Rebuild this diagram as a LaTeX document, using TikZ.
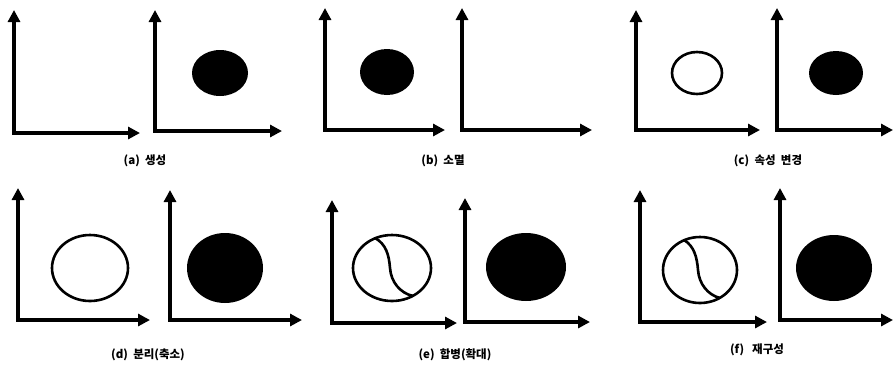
\documentclass[tikz,border=0pt]{standalone}
\usepackage{fontspec}
\newfontfamily\kr{Noto Sans CJK KR}[BoldFont={Noto Sans CJK KR Black}]
\usetikzlibrary{arrows.meta}
\tikzset{
  axis/.style={line width=3.2pt,{Triangle[length=12pt,width=12pt]}-{Triangle[length=12pt,width=12pt]}},
  blob/.style={fill=black},
  ring/.style={draw=black,line width=2.6pt},
  split/.style={draw=black,line width=2.6pt},
  lab/.style={font=\kr\bfseries\fontsize{11.5}{13}\selectfont,inner sep=0pt}
}
\begin{document}
\begin{tikzpicture}[x=1pt,y=-1pt]
\useasboundingbox (0,0) rectangle (893,368);
% (a)
\draw[axis] (14,10) |- (140,133);
\draw[axis] (155,10) |- (282,131);
\fill[blob] (220,73) ellipse [x radius=28,y radius=23];
\node[lab] (la) at (145,161) {(a)\ \ 생성};
% (b)
\draw[axis] (325,8) |- (445,130);
\fill[blob] (387,72) ellipse [x radius=27,y radius=23];
\draw[axis] (462,8) |- (592,130);
\node[lab] (lb) at (443,161) {(b)\ \ 소멸};
% (c)
\draw[axis] (636,10) |- (760,130);
\draw[ring] (697,73) ellipse [x radius=25,y radius=21];
\draw[axis] (777,8) |- (893,130);
\fill[blob] (836,73) ellipse [x radius=27,y radius=22];
\node[lab] (lc) at (768,161) {(c)\ \ 속성\ \ 변경};
% (d)
\draw[axis] (18,188) |- (150,320);
\draw[ring] (90,268) ellipse [x radius=38,y radius=33];
\draw[axis] (170,190) |- (302,320);
\fill[blob] (225,268) ellipse [x radius=38,y radius=35];
\node[lab] (ld) at (148,355) {(d)\ \ 분리(축소)};
% (e)
\draw[axis] (332,200) |- (457,323);
\draw[ring] (392,268) ellipse [x radius=39,y radius=33];
\draw[split] (375,238) .. controls (386,244) and (389,255) .. (390,268)
  .. controls (391,282) and (400,293) .. (413,296);
\draw[axis] (465,198) |- (590,322);
\fill[blob] (526,267) ellipse [x radius=40,y radius=34];
\node[lab] (le) at (455,355) {(e)\ \ 합병(확대)};
% (f)
\draw[axis] (640,190) |- (767,322);
\draw[ring] (700,270) ellipse [x radius=37,y radius=33];
\draw[split] (684,240) .. controls (694,246) and (697,257) .. (698,270)
  .. controls (699,284) and (708,295) .. (720,298);
\draw[axis] (780,188) |- (893,320);
\fill[blob] (834,268) ellipse [x radius=38,y radius=33];
\node[lab] (lf) at (757,350) {(f)\ \ \ 재구성};
\end{tikzpicture}
\end{document}
